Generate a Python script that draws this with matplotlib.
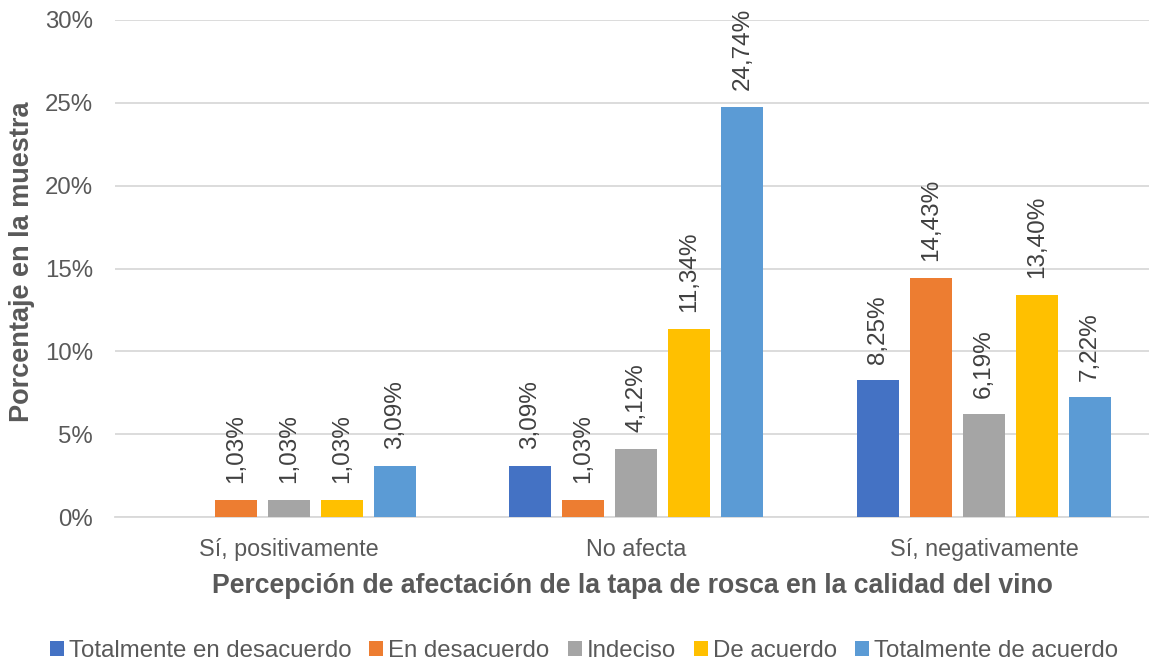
import matplotlib
matplotlib.use("Agg")
import matplotlib.pyplot as plt
import numpy as np

plt.rcParams['font.family'] = ['Liberation Sans', 'DejaVu Sans']

categories = ["Sí, positivamente", "No afecta", "Sí, negativamente"]
series_names = ["Totalmente en desacuerdo", "En desacuerdo", "Indeciso",
                "De acuerdo", "Totalmente de acuerdo"]
values = [
    [0.0, 3.09, 8.25],
    [1.03, 1.03, 14.43],
    [1.03, 4.12, 6.19],
    [1.03, 11.34, 13.40],
    [3.09, 24.74, 7.22],
]
colors = ["#4472C4", "#ED7D31", "#A5A5A5", "#FFC000", "#5B9BD5"]
yticks = [0, 5, 10, 15, 20, 25, 30]

fig = plt.figure(figsize=(11.49, 6.62), dpi=100)
ax = fig.add_axes([115/1149, 1-517/662, 1-115/1149, (517-20)/662])

x = np.arange(len(categories))
step = 0.1525
width = 0.121
txtc = "#595959"
for i, (name, vals, c) in enumerate(zip(series_names, values, colors)):
    pos = x + (i - 2) * step
    ax.bar(pos, vals, width, color=c, label=name, zorder=3)
    for p, v in zip(pos, vals):
        if v > 0:
            ax.annotate(f"{v:.2f}%".replace(".", ","), (p, v),
                        xytext=(0, 12), textcoords="offset points",
                        rotation=90, ha="center", va="bottom",
                        fontsize=17.5, color="#404040")

ax.set_xlim(-0.5, 2.475)
ax.set_ylim(0, 30)
ax.set_yticks(yticks)
ax.set_yticklabels([f"{t}%" for t in yticks], fontsize=17.3, color=txtc)
ax.set_xticks(x)
ax.set_xticklabels(categories, fontsize=16.8, color=txtc)
ax.tick_params(axis="y", length=0, pad=16)
ax.tick_params(axis="x", length=0, pad=15)
ax.yaxis.grid(True, color="#D9D9D9", linewidth=1.3, zorder=0)
for s in ["top", "right", "left"]:
    ax.spines[s].set_visible(False)
ax.spines["bottom"].set_color("#D9D9D9")
ax.spines["bottom"].set_linewidth(1.3)

ax.set_ylabel("Porcentaje en la muestra", fontsize=19.5, fontweight="bold",
              color=txtc, labelpad=7)
ax.yaxis.label.set_y(0.513)
ax.set_xlabel("Percepción de afectación de la tapa de rosca en la calidad del vino",
              fontsize=19.2, fontweight="bold", color=txtc, labelpad=9)

fig.legend(loc="center", bbox_to_anchor=(584/1149, 1-651/662), ncol=5,
           frameon=False, fontsize=17.3, handlelength=0.58, handleheight=0.58,
           handletextpad=0.21, columnspacing=0.75, labelcolor=txtc)

fig.savefig("out.png", dpi=100)
